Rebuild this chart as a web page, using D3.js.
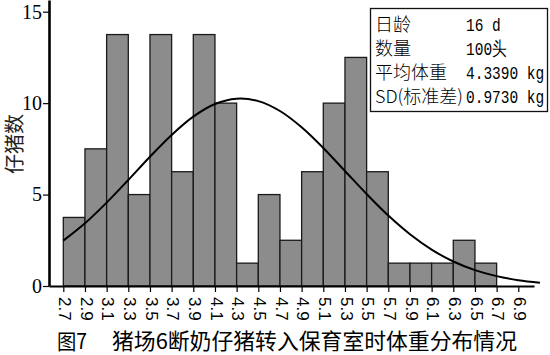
<!DOCTYPE html>
<html>
<head>
<meta charset="utf-8">
<script src="https://cdn.jsdelivr.net/npm/d3@7"></script>
<style>
  html, body { margin: 0; padding: 0; background: #fff; }
  svg { display: block; }
</style>
</head>
<body>
<svg id="chart" width="550" height="355"></svg>
<script>
// ---- data ----
const binStarts = [2.7, 2.9, 3.1, 3.3, 3.5, 3.7, 3.9, 4.1, 4.3, 4.5, 4.7, 4.9, 5.1, 5.3, 5.5, 5.7, 5.9, 6.1, 6.3, 6.5];
const binWidth = 0.2;
const counts = [3.75, 7.5, 13.75, 5, 13.75, 6.25, 13.75, 10, 1.25, 5, 2.5, 6.25, 10, 12.5, 6.25, 1.25, 1.25, 1.25, 2.5, 1.25];
const xTickLabels = ["2.7","2.9","3.1","3.3","3.5","3.7","3.9","4.1","4.3","4.5","4.7","4.9","5.1","5.3","5.5","5.7","5.9","6.1","6.3","6.5","6.7","6.9"];
const yTicks = [0, 5, 10, 15];
// fitted curve
const curveX = [2.7, 2.9, 3.1, 3.3, 3.5, 3.7, 3.9, 4.1, 4.3, 4.5, 4.7, 4.9, 5.1, 5.3, 5.5, 5.7, 5.9, 6.1, 6.3, 6.5, 6.7, 6.9, 7.1];
const curveY = [2.48, 3.43, 4.56, 5.80, 7.07, 8.26, 9.26, 9.95, 10.24, 10.11, 9.57, 8.68, 7.55, 6.29, 5.03, 3.85, 2.83, 1.99, 1.34, 0.87, 0.54, 0.32, 0.18];
const legendLabels = ["日龄", "数量", "平均体重", "SD(标准差)"];
const legendValues = ["16 d", "100头", "4.3390 kg", "0.9730 kg"];
const yTitle = "仔猪数";
const titlePrefix = "图7";
const titleMain = "猪场6断奶仔猪转入保育室时体重分布情况";

// ---- chart ----
const svg = d3.select("#chart");
const x = d3.scaleLinear().domain([2.568, 7.045]).range([49, 534]);
const y = d3.scaleLinear().domain([0, 15.64]).range([286, 0]);

// bars
svg.append("g").selectAll("rect").data(binStarts).join("rect")
  .attr("x", d => x(d))
  .attr("y", (d, i) => y(counts[i]))
  .attr("width", d => x(d + binWidth) - x(d))
  .attr("height", (d, i) => y(0) - y(counts[i]))
  .attr("fill", "#8c8c8c")
  .attr("stroke", "#1a1a1a")
  .attr("stroke-width", 1.3);

// curve
const pts = curveX.map((v, i) => [v, curveY[i]]);
svg.append("path")
  .datum(pts)
  .attr("fill", "none")
  .attr("stroke", "#000")
  .attr("stroke-width", 2)
  .attr("d", d3.line().x(d => x(d[0])).y(d => y(d[1])).curve(d3.curveCatmullRom));

// x axis
const xTickVals = xTickLabels.map(Number);
const gx = svg.append("g").attr("transform", "translate(0,286)")
  .call(d3.axisBottom(x).tickValues(xTickVals).tickSize(6).tickSizeOuter(0).tickFormat(""));
gx.select(".domain").attr("stroke", "#000").attr("stroke-width", 2);
gx.selectAll(".tick line").attr("stroke", "#000").attr("stroke-width", 1.2);
svg.append("g").selectAll("text").data(xTickLabels).join("text")
  .attr("transform", d => `translate(${x(+d) + 1.5},297) rotate(90)`)
  .attr("dy", "0.35em")
  .attr("text-anchor", "start")
  .attr("font-family", "Liberation Sans, Arial, sans-serif")
  .attr("font-size", 17)
  .attr("fill", "#000")
  .text(d => d);

// y axis
const gy = svg.append("g").attr("transform", "translate(49,0)")
  .call(d3.axisLeft(y).tickValues(yTicks).tickSize(6).tickPadding(1).tickSizeOuter(0));
gy.select(".domain").attr("stroke", "#000").attr("stroke-width", 2.6);
gy.selectAll(".tick line").attr("stroke", "#000").attr("stroke-width", 1.2);
gy.selectAll(".tick text")
  .attr("font-family", "Liberation Serif, Times New Roman, serif")
  .attr("font-size", 20)
  .attr("fill", "#000");

// y title
svg.append("text")
  .attr("transform", "translate(15,144) rotate(-90)")
  .attr("text-anchor", "middle")
  .attr("dy", "0.36em")
  .attr("font-family", "Noto Sans CJK SC, sans-serif")
  .attr("font-size", 20)
  .attr("fill", "#222")
  .text(yTitle);

// legend box
const lg = svg.append("g");
lg.append("rect")
  .attr("x", 370.5).attr("y", 8.5).attr("width", 177).attr("height", 103)
  .attr("fill", "#fff").attr("stroke", "#111").attr("stroke-width", 1.3);
const rowBase = [31, 55, 79, 103];
lg.selectAll("text.lab").data(legendLabels).join("text")
  .attr("class", "lab")
  .attr("x", 375).attr("y", (d, i) => rowBase[i])
  .attr("font-family", "Noto Sans CJK SC, sans-serif")
  .attr("font-weight", 300)
  .attr("font-size", 18)
  .attr("fill", "#000")
  .each(function(d, i) { if (i === 3) d3.select(this).attr("textLength", 88).attr("lengthAdjust", "spacingAndGlyphs"); })
  .text(d => d);
lg.selectAll("text.val").data(legendValues).join("text")
  .attr("class", "val")
  .attr("transform", (d, i) => `translate(466,${rowBase[i]}) scale(1,1.3)`)
  .attr("font-family", "Liberation Mono, monospace")
  .attr("font-size", 14.5)
  .attr("fill", "#000")
  .text(d => d);

// title
svg.append("text")
  .attr("x", 57).attr("y", 349)
  .attr("font-family", "Noto Sans CJK SC, sans-serif")
  .attr("font-size", 21)
  .attr("fill", "#000")
  .attr("textLength", 30).attr("lengthAdjust", "spacingAndGlyphs")
  .text(titlePrefix);
svg.append("text")
  .attr("x", 112).attr("y", 349)
  .attr("font-family", "Noto Sans CJK SC, sans-serif")
  .attr("font-size", 21.5)
  .attr("fill", "#000")
  .attr("textLength", 405).attr("lengthAdjust", "spacingAndGlyphs")
  .text(titleMain);
</script>
</body>
</html>
